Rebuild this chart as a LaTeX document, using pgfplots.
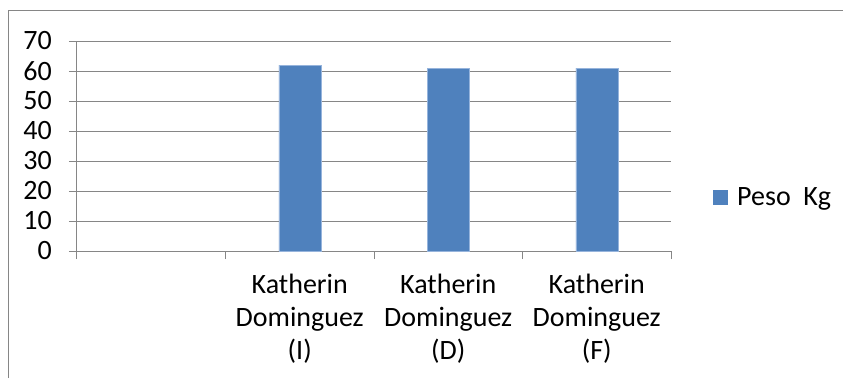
\documentclass[border=0pt]{standalone}
\usepackage{fontspec}
\setmainfont{Carlito}
\usepackage{pgfplots}
\pgfplotsset{compat=1.18}
\definecolor{barblue}{RGB}{79,129,189}
\definecolor{bedge}{RGB}{150,180,220}
\definecolor{gridgray}{RGB}{134,134,134}
\begin{document}
\begin{tikzpicture}[font=\fontsize{28pt}{33pt}\selectfont]
\useasboundingbox (0pt,0pt) rectangle (843pt,378pt);
\draw[gridgray, line width=1.5pt] (8.5pt,0pt) -- (8.5pt,367.5pt) -- (843pt,367.5pt);
\begin{axis}[
  at={(77pt,127pt)}, anchor=south west,
  scale only axis, width=594pt, height=210pt,
  xmin=-0.5, xmax=3.5, ymin=0, ymax=70,
  separate axis lines,
  axis x line=bottom, axis y line=left,
  axis line style={gridgray, line width=1pt, -},
  ytick={0,10,...,70},
  ymajorgrids, grid style={gridgray, line width=1pt},
  tick align=outside, major tick length=8pt,
  tick style={gridgray, line width=1pt},
  xtick={-0.5,0.5,1.5,2.5,3.5}, xticklabels={},
  extra x ticks={1,2,3},
  extra x tick labels={{Katherin\\Dominguez\\(I)},{Katherin\\Dominguez\\(D)},{Katherin\\Dominguez\\(F)}},
  extra x tick style={major tick length=0pt, grid=none},
  xticklabel style={align=center, inner sep=0pt, yshift=-23pt},
  yticklabel style={inner sep=0pt, xshift=-17pt},
  /pgf/number format/assume math mode=true,
  ybar, bar width=42pt,
  legend style={at={(1.0707,0.257)}, anchor=west, draw=none, inner sep=0pt, fill=none},
  legend cell align=left,
  legend image code/.code={\path[draw=none,fill=none] (0pt,-1pt) rectangle (22pt,1pt);\fill[barblue,draw=none] (0pt,-7.5pt) rectangle (15pt,7.5pt);},
]
\addplot[fill=barblue, draw=bedge] coordinates {(1,62)(2,61)(3,61)};
\addlegendentry{Peso\ \ Kg}
\end{axis}
\end{tikzpicture}
\end{document}
